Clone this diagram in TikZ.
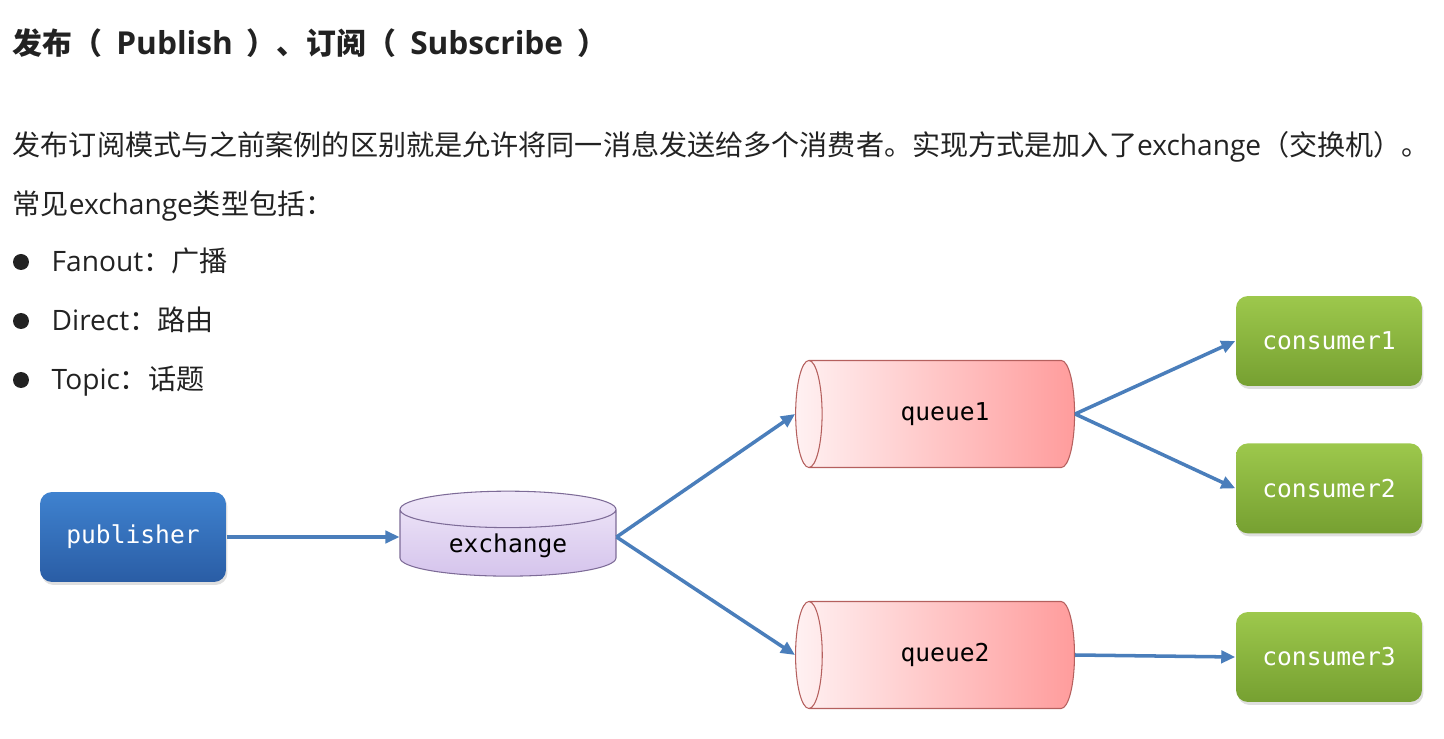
\documentclass[tikz,border=0pt]{standalone}
\usepackage{fontspec}
\setmainfont{Noto Sans CJK SC}
\newfontfamily\latin{Open Sans}
\newfontfamily\monofont{DejaVu Sans Mono}
\usetikzlibrary{positioning, shapes.geometric, arrows.meta, shadows}

\definecolor{textgray}{HTML}{222222}
\definecolor{arrowblue}{HTML}{4A7EBB}
\definecolor{pubtop}{HTML}{3F82CF}
\definecolor{pubbot}{HTML}{2A5DA5}
\definecolor{contop}{HTML}{9DC84C}
\definecolor{conbot}{HTML}{76A031}
\definecolor{queueL}{HTML}{FFF1F2}
\definecolor{queueR}{HTML}{FF9C9C}
\definecolor{queueline}{HTML}{B5605E}
\definecolor{extop}{HTML}{F0E8F9}
\definecolor{exbot}{HTML}{D5C4EC}
\definecolor{exline}{HTML}{7D6B97}

\newcommand{\titleword}[1]{\hspace{8pt}{\latin\fontsize{18}{18}\selectfont #1}\hspace{8pt}}

\begin{document}
\begin{tikzpicture}[x=0.02cm, y=-0.02cm, thick]

    % Define styles
    \tikzstyle{txt} = [anchor=base west, inner sep=0pt, text=textgray, font=\fontsize{16}{16}\selectfont]
    \tikzstyle{dot} = [circle, fill=textgray, minimum size=0.32cm, inner sep=0pt]
    \tikzstyle{box} = [rectangle, rounded corners=0.24cm, minimum width=3.72cm, minimum height=1.8cm, text=white, font=\monofont\fontsize{14}{14}\selectfont, drop shadow={opacity=0.25, shadow xshift=0.03cm, shadow yshift=-0.06cm}]
    \tikzstyle{pub} = [box, top color=pubtop, bottom color=pubbot]
    \tikzstyle{con} = [box, top color=contop, bottom color=conbot]
    \tikzstyle{queue} = [cylinder, shape border rotate=180, aspect=0.76, draw=queueline, line width=0.6pt, left color=queueL, right color=queueR, minimum height=5.58cm, minimum width=2.14cm, text=black, font=\monofont\fontsize{14}{14}\selectfont]
    \tikzstyle{exch} = [cylinder, shape border rotate=90, aspect=0.28, draw=exline, line width=0.6pt, top color=extop, bottom color=exbot, minimum width=4.32cm, minimum height=1.6cm, text=black, font=\monofont\fontsize{14}{14}\selectfont]
    \tikzstyle{link} = [-{Triangle[length=8pt, width=7pt]}, draw=arrowblue, line width=2pt]

    \useasboundingbox (0,0) rectangle (1444,739);

    % TEXT
    \node (title) [txt, font=\bfseries\fontsize{17}{17}\selectfont] at (12,55) {发布（\titleword{Publish}）、订阅（\titleword{Subscribe}）};
    \node (intro) [txt] at (12,156) {发布订阅模式与之前案例的区别就是允许将同一消息发送给多个消费者。实现方式是加入了{\latin exchange}（交换机）。};
    \node (types) [txt] at (12,215) {常见{\latin exchange}类型包括：};

    \node (dot1) [dot] at (21,262) {};
    \node (fanout) [txt] at (51,272) {{\latin Fanout}：广播};
    \node (dot2) [dot] at (21,321) {};
    \node (direct) [txt] at (51,331) {{\latin Direct}：路由};
    \node (dot3) [dot] at (21,380) {};
    \node (topic) [txt] at (51,390) {{\latin Topic}：话题};

    % NODES
    \node (publisher) [pub] at (133,537) {publisher};
    \node (exchange) [exch] at (508,546) {exchange};
    \node (queue1) [queue] at (945,414) {queue1};
    \node (queue2) [queue] at (945,655) {queue2};
    \node (consumer1) [con] at (1329,341) {consumer1};
    \node (consumer2) [con, below=1.12cm of consumer1] {consumer2};
    \node (consumer3) [con] at (1329,657) {consumer3};

    % CONNECTIONS
    \draw[link] (publisher) -- (publisher -| exchange.west);
    \draw[link] ([yshift=0.18cm]exchange.east) -- (queue1.west);
    \draw[link] ([yshift=0.18cm]exchange.east) -- (queue2.west);
    \draw[link] (queue1.east) -- (consumer1.west);
    \draw[link] (queue1.east) -- (consumer2.west);
    \draw[link] (queue2.east) -- (consumer3.west);

\end{tikzpicture}
\end{document}
